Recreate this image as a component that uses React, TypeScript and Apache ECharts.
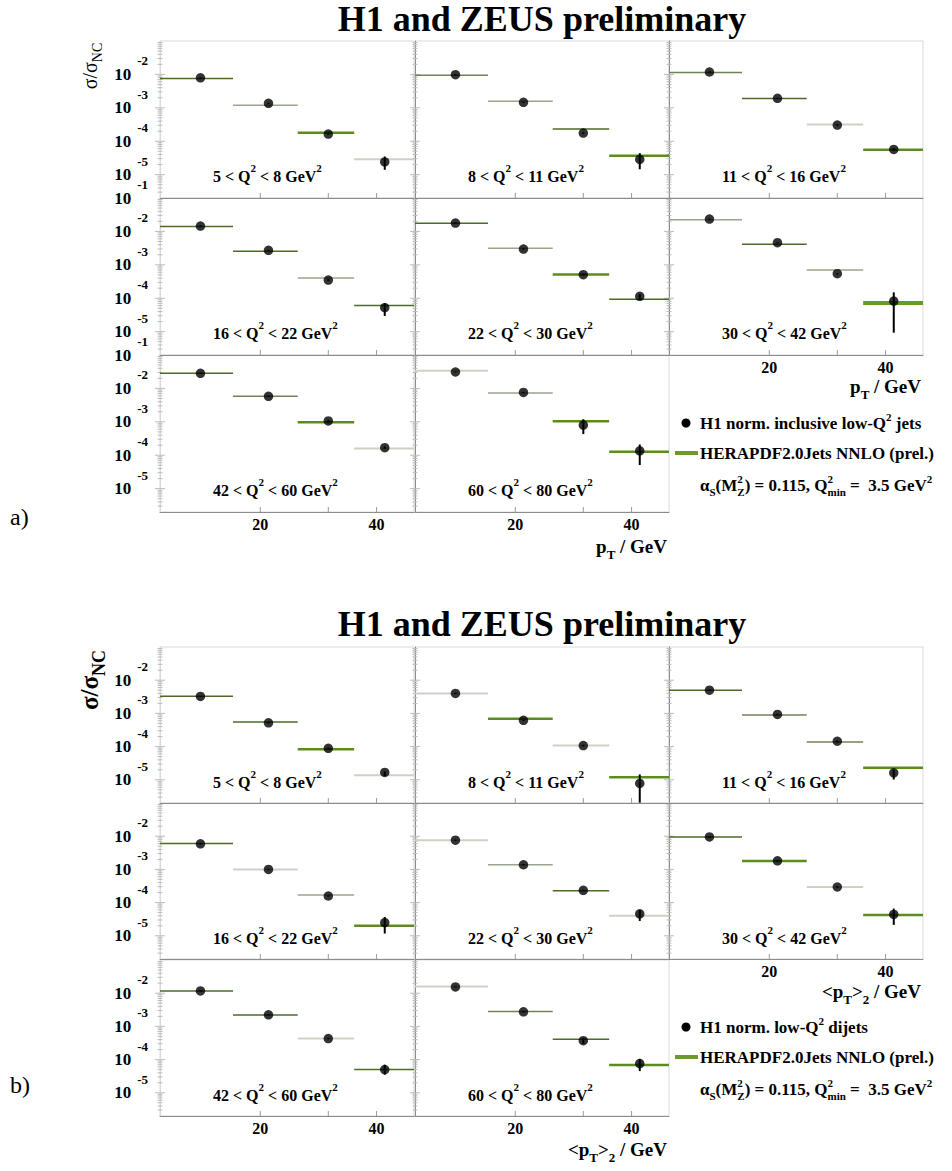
import React, { useEffect, useRef } from "react";
import * as echarts from "echarts";

const W = 952;
const H = 1171;
const SERIF = '"Liberation Serif", "DejaVu Serif", serif';

// pT binning (GeV): bin edges and the position of each measured point
const ptEdges = [11, 17, 25, 35, 50];
const ptPoints = [14, 21, 30, 42];
const xTickValues = [20, 30, 40];
const xTickLabels = [20, 40];

// Q^2 ranges of the eight panels (GeV^2)
const q2Lo = [5, 8, 11, 16, 22, 30, 42, 60];
const q2Hi = [8, 11, 16, 22, 30, 42, 60, 80];

// a) H1 normalised inclusive low-Q^2 jets
const incPts = [
  [7.9e-3, 1.36e-3, 1.64e-4, 2.4e-5],
  [9.8e-3, 1.46e-3, 1.76e-4, 2.86e-5],
  [1.18e-2, 1.92e-3, 3.05e-4, 5.7e-5],
  [1.45e-2, 2.72e-3, 3.5e-4, 5.2e-5],
  [1.78e-2, 2.97e-3, 5.06e-4, 1.14e-4],
  [2.35e-2, 4.59e-3, 5.42e-4, 8.2e-5],
  [2.83e-2, 5.8e-3, 1.06e-3, 1.68e-4],
  [3.1e-2, 7.6e-3, 8.0e-4, 1.36e-4],
];
const incLo = [
  [7.6e-3, 1.3e-3, 1.55e-4, 1.4e-5],
  [9.4e-3, 1.4e-3, 1.66e-4, 1.45e-5],
  [1.13e-2, 1.84e-3, 2.9e-4, 5.2e-5],
  [1.39e-2, 2.6e-3, 3.3e-4, 2.95e-5],
  [1.71e-2, 2.85e-3, 4.8e-4, 8.9e-5],
  [2.26e-2, 4.4e-3, 5.1e-4, 9.3e-6],
  [2.72e-2, 5.55e-3, 1.0e-3, 1.55e-4],
  [2.98e-2, 7.3e-3, 4.3e-4, 5.1e-5],
];
const incHi = [
  [8.2e-3, 1.42e-3, 1.73e-4, 3.5e-5],
  [1.02e-2, 1.52e-3, 1.86e-4, 4.4e-5],
  [1.23e-2, 2.0e-3, 3.2e-4, 6.2e-5],
  [1.51e-2, 2.84e-3, 3.7e-4, 7.1e-5],
  [1.85e-2, 3.1e-3, 5.3e-4, 1.32e-4],
  [2.44e-2, 4.78e-3, 5.7e-4, 1.5e-4],
  [2.94e-2, 6.05e-3, 1.12e-3, 1.82e-4],
  [3.22e-2, 7.9e-3, 1.19e-3, 2.1e-4],
];
// HERAPDF2.0Jets NNLO prediction per bin
const incTheory = [
  [7.6e-3, 1.19e-3, 1.8e-4, 2.9e-5],
  [9.5e-3, 1.56e-3, 2.32e-4, 3.68e-5],
  [1.15e-2, 1.9e-3, 3.16e-4, 5.6e-5],
  [1.41e-2, 2.54e-3, 4.03e-4, 6.1e-5],
  [1.74e-2, 3.11e-3, 5.16e-4, 9.3e-5],
  [2.24e-2, 4.11e-3, 6.98e-4, 7.2e-5],
  [2.83e-2, 5.8e-3, 9.7e-4, 1.6e-4],
  [3.39e-2, 7.3e-3, 1.04e-3, 1.27e-4],
];

// b) H1 normalised low-Q^2 dijets
const dijPts = [
  [3.24e-3, 5.2e-4, 8.9e-5, 1.66e-5],
  [3.98e-3, 6.2e-4, 1.07e-4, 7.8e-6],
  [5.0e-3, 9.3e-4, 1.45e-4, 1.62e-5],
  [5.9e-3, 1.0e-3, 1.58e-4, 2.5e-5],
  [7.6e-3, 1.38e-3, 2.34e-4, 4.6e-5],
  [9.5e-3, 1.82e-3, 2.95e-4, 4.4e-5],
  [1.17e-2, 2.24e-3, 4.3e-4, 5.0e-5],
  [1.55e-2, 2.75e-3, 3.7e-4, 7.6e-5],
];
const dijLo = [
  [3.1e-3, 4.95e-4, 8.4e-5, 1.3e-5],
  [3.8e-3, 5.9e-4, 1.01e-4, 2.05e-6],
  [4.8e-3, 8.9e-4, 1.37e-4, 1.02e-5],
  [5.65e-3, 9.6e-4, 1.5e-4, 1.17e-5],
  [7.3e-3, 1.32e-3, 2.22e-4, 2.8e-5],
  [9.1e-3, 1.74e-3, 2.8e-4, 2.14e-5],
  [1.12e-2, 2.14e-3, 4.1e-4, 3.5e-5],
  [1.49e-2, 2.63e-3, 3.0e-4, 4.5e-5],
];
const dijHi = [
  [3.38e-3, 5.45e-4, 9.4e-5, 1.8e-5],
  [4.16e-3, 6.5e-4, 1.13e-4, 1.45e-5],
  [5.2e-3, 9.7e-4, 1.53e-4, 2.04e-5],
  [6.15e-3, 1.04e-3, 1.66e-4, 3.7e-5],
  [7.9e-3, 1.44e-3, 2.46e-4, 6.0e-5],
  [9.9e-3, 1.9e-3, 3.1e-4, 6.6e-5],
  [1.22e-2, 2.34e-3, 4.5e-4, 7.0e-5],
  [1.61e-2, 2.87e-3, 4.5e-4, 1.05e-4],
];
const dijTheory = [
  [3.3e-3, 5.5e-4, 8.3e-5, 1.38e-5],
  [3.98e-3, 6.9e-4, 1.07e-4, 1.2e-5],
  [5.0e-3, 8.9e-4, 1.38e-4, 2.3e-5],
  [6.0e-3, 1.0e-3, 1.7e-4, 2.0e-5],
  [7.6e-3, 1.38e-3, 2.29e-4, 4.0e-5],
  [9.5e-3, 1.78e-3, 2.95e-4, 4.2e-5],
  [1.17e-2, 2.2e-3, 4.3e-4, 5.0e-5],
  [1.6e-2, 2.8e-3, 4.1e-4, 6.9e-5],
];

// line shade of each prediction segment (one letter per bin)
const incShade = ["DMGL", "OMDG", "ODLG", "DDMD", "DMGD", "MDMT", "DOGL", "LMGG"];
const dijShade = ["DDGL", "LGLG", "DOOG", "DLMG", "LMDL", "DGLG", "DDLD", "LODG"];
const SHADES: Record<string, [string, number]> = {
  T: ["#63a01d", 4],
  G: ["#5b8c1d", 2.5],
  D: ["#4d6a28", 1.5],
  O: ["#6f8455", 1.5],
  M: ["#9aa68c", 1.5],
  L: ["#cdd2c5", 2],
};

const X_MIN = 11;
const X_MAX = 50;
const Y_MIN = 2e-6;
const Y_MAX = 0.1;

const colLeft = [160, 415, 669];
const colW = 254;

interface Block {
  tops: number[];
  h: number;
  pts: number[][];
  lo: number[][];
  hi: number[][];
  th: number[][];
  shade: string[];
  topLabel: boolean;
}

const blocks: Block[] = [
  { tops: [41, 198, 355], h: 157, pts: incPts, lo: incLo, hi: incHi, th: incTheory, shade: incShade, topLabel: true },
  { tops: [647, 803, 960], h: 156, pts: dijPts, lo: dijLo, hi: dijHi, th: dijTheory, shade: dijShade, topLabel: false },
];

function axisTickData(labelled: boolean) {
  const d: number[][] = [];
  for (let e = -6; e <= -2; e++) {
    for (let m = 1; m <= 9; m++) {
      const v = m * Math.pow(10, e);
      if (v > Y_MIN * 1.01 && v < Y_MAX * 0.99) d.push([X_MIN, v, m === 1 ? 1 : 0]);
    }
  }
  xTickValues.forEach((x) => d.push([x, Y_MIN, 2]));
  if (labelled) xTickLabels.forEach((x) => d.push([x, Y_MIN, 3]));
  return d;
}

const textStyle = (size: number, bold = true) => ({
  fontFamily: SERIF,
  fontWeight: bold ? "bold" : "normal",
  fontSize: size,
  fill: "#000",
});

function buildOption() {
  const grid: any[] = [];
  const xAxis: any[] = [];
  const yAxis: any[] = [];
  const series: any[] = [];
  const graphic: any[] = [];

  blocks.forEach((blk, bi) => {
    for (let j = 0; j < 8; j++) {
      const k = bi * 8 + j;
      const row = Math.floor(j / 3);
      const col = j % 3;
      const top = blk.tops[row];
      const bottomOfColumn = row === 2 || (row === 1 && col === 2);

      grid.push({
        left: colLeft[col],
        top,
        width: colW,
        height: blk.h,
        show: true,
        borderColor: "#d9d9d9",
        borderWidth: 1,
        backgroundColor: "transparent",
      });
      xAxis.push({
        type: "log",
        gridIndex: k,
        min: X_MIN,
        max: X_MAX,
        axisLine: { show: true, lineStyle: { color: "#8c8c8c", width: 1 } },
        axisTick: { show: false },
        axisLabel: { show: false },
        splitLine: { show: false },
      });
      yAxis.push({
        type: "log",
        gridIndex: k,
        min: Y_MIN,
        max: Y_MAX,
        axisLine: { show: true, lineStyle: { color: col === 0 ? "#d9d9d9" : "#8c8c8c", width: 1 } },
        axisTick: { show: false },
        splitLine: { show: false },
        axisLabel: {
          show: col === 0,
          margin: 12,
          formatter: (v: number) => {
            const l = Math.log10(v);
            const e = Math.round(l);
            if (Math.abs(l - e) > 0.02) return "";
            if (e === -1 && (!blk.topLabel || row === 0)) return "";
            return `{b|10}{e|${e}}`;
          },
          rich: {
            b: { fontFamily: SERIF, fontWeight: "bold", fontSize: 17, color: "#000", lineHeight: 40 },
            e: {
              fontFamily: SERIF,
              fontWeight: "bold",
              fontSize: 13,
              color: "#000",
              lineHeight: 14,
              verticalAlign: "top",
              padding: [0, 0, 0, 6],
            },
          },
        },
      });

      // frame ticks and x labels
      series.push({
        type: "custom",
        xAxisIndex: k,
        yAxisIndex: k,
        encode: { x: 0, y: 1 },
        data: axisTickData(bottomOfColumn),
        silent: true,
        z: 1,
        renderItem: (_p: any, api: any) => {
          const kind = api.value(2);
          if (kind === 0 || kind === 1) {
            const p = api.coord([X_MIN, api.value(1)]);
            const len = kind === 1 ? 5 : 2.5;
            return {
              type: "line",
              shape: { x1: p[0] - len, y1: p[1], x2: p[0] + len, y2: p[1] },
              style: { stroke: "#bdbdbd", lineWidth: 1 },
            };
          }
          const p = api.coord([api.value(0), Y_MIN]);
          if (kind === 2) {
            return {
              type: "line",
              shape: { x1: p[0], y1: p[1], x2: p[0], y2: p[1] - 5 },
              style: { stroke: "#9a9a9a", lineWidth: 1 },
            };
          }
          return {
            type: "text",
            x: p[0],
            y: p[1] + 4,
            style: { ...textStyle(16), text: String(api.value(0)), align: "center", verticalAlign: "top" },
          };
        },
      });

      // prediction: one horizontal segment per bin
      const shade = blk.shade[j];
      series.push({
        type: "custom",
        xAxisIndex: k,
        yAxisIndex: k,
        encode: { x: [0, 1], y: 2 },
        data: blk.th[j].map((v, i) => [ptEdges[i], ptEdges[i + 1], v]),
        z: 2,
        renderItem: (p: any, api: any) => {
          const s = SHADES[shade[p.dataIndex]];
          const a = api.coord([api.value(0), api.value(2)]);
          const b = api.coord([api.value(1), api.value(2)]);
          return {
            type: "line",
            shape: { x1: a[0], y1: a[1], x2: b[0], y2: b[1] },
            style: { stroke: s[0], lineWidth: s[1] },
          };
        },
      });

      // measurement uncertainties
      series.push({
        type: "custom",
        xAxisIndex: k,
        yAxisIndex: k,
        encode: { x: 0, y: [1, 2] },
        data: blk.pts[j].map((_v, i) => [ptPoints[i], blk.lo[j][i], blk.hi[j][i]]),
        z: 3,
        renderItem: (_p: any, api: any) => {
          const a = api.coord([api.value(0), api.value(1)]);
          const b = api.coord([api.value(0), api.value(2)]);
          return {
            type: "line",
            shape: { x1: a[0], y1: a[1], x2: b[0], y2: b[1] },
            style: { stroke: "#000", lineWidth: 2 },
          };
        },
      });

      // measured points
      series.push({
        type: "scatter",
        xAxisIndex: k,
        yAxisIndex: k,
        data: blk.pts[j].map((v, i) => [ptPoints[i], v]),
        symbol: "circle",
        symbolSize: 9.5,
        itemStyle: { color: "#000" },
        z: 4,
      });

      graphic.push({
        type: "text",
        x: colLeft[col] + 53,
        y: top + 132,
        style: {
          text: `{t|${q2Lo[j]} < Q}{u|2}{t| < ${q2Hi[j]} GeV}{u|2}`,
          align: "left",
          verticalAlign: "middle",
          rich: {
            t: { fontFamily: SERIF, fontWeight: "bold", fontSize: 16, lineHeight: 22, verticalAlign: "bottom", fill: "#000" },
            u: { fontFamily: SERIF, fontWeight: "bold", fontSize: 11, lineHeight: 11, verticalAlign: "top", fill: "#000" },
          },
        },
      });
    }
  });

  const subRich = (big: number, small: number) => ({
    b: { fontFamily: SERIF, fontWeight: "bold", fontSize: big, lineHeight: big, verticalAlign: "top", fill: "#000" },
    s: { fontFamily: SERIF, fontWeight: "bold", fontSize: small, lineHeight: big + 5, verticalAlign: "bottom", fill: "#000" },
  });

  // titles, axis titles, legends
  [19, 624].forEach((y) =>
    graphic.push({
      type: "text",
      x: 542,
      y,
      style: { ...textStyle(36), text: "H1 and ZEUS preliminary", align: "center", verticalAlign: "middle" },
    })
  );
  graphic.push({
    type: "text",
    x: 10,
    y: 517,
    style: { ...textStyle(24, false), text: "a)", align: "left", verticalAlign: "middle" },
  });
  graphic.push({
    type: "text",
    x: 10,
    y: 1085,
    style: { ...textStyle(24, false), text: "b)", align: "left", verticalAlign: "middle" },
  });
  graphic.push({
    type: "text",
    x: 92,
    y: 66,
    rotation: Math.PI / 2,
    style: {
      text: "{m|σ/σ}{s|NC}",
      align: "center",
      verticalAlign: "middle",
      rich: {
        m: { fontFamily: SERIF, fontSize: 20, lineHeight: 20, verticalAlign: "top", fill: "#000" },
        s: { fontFamily: SERIF, fontSize: 14, lineHeight: 25, verticalAlign: "bottom", fill: "#000" },
      },
    },
  });
  graphic.push({
    type: "text",
    x: 92,
    y: 680,
    rotation: Math.PI / 2,
    style: {
      text: "{m|σ/σ}{s|NC}",
      align: "center",
      verticalAlign: "middle",
      rich: {
        m: { fontFamily: SERIF, fontWeight: "bold", fontSize: 25, lineHeight: 25, verticalAlign: "top", fill: "#000" },
        s: { fontFamily: SERIF, fontWeight: "bold", fontSize: 18, lineHeight: 31, verticalAlign: "bottom", fill: "#000" },
      },
    },
  });

  const ptTitle = "{b|p}{s|T}{b| / GeV}";
  const pt2Title = "{b|<p}{s|T}{b|>}{s|2}{b| / GeV}";
  [
    [921, 389, ptTitle],
    [667, 549, ptTitle],
    [921, 994, pt2Title],
    [667, 1152, pt2Title],
  ].forEach(([x, y, t]) =>
    graphic.push({
      type: "text",
      x,
      y,
      style: { text: t, align: "right", verticalAlign: "middle", rich: subRich(19, 13) },
    })
  );

  const legendRich = {
    t: { fontFamily: SERIF, fontWeight: "bold", fontSize: 17, lineHeight: 24, verticalAlign: "middle", fill: "#000" },
    p: { fontFamily: SERIF, fontWeight: "bold", fontSize: 11, lineHeight: 11, verticalAlign: "top", fill: "#000", width: 0 },
    q: { fontFamily: SERIF, fontWeight: "bold", fontSize: 11, lineHeight: 11, verticalAlign: "top", fill: "#000" },
    d: { fontFamily: SERIF, fontWeight: "bold", fontSize: 11, lineHeight: 11, verticalAlign: "bottom", fill: "#000" },
  };
  const legends = [
    { y: 423, entry: "{t|H1 norm. inclusive low-Q}{q|2}{t| jets}" },
    { y: 1027, entry: "{t|H1 norm. low-Q}{q|2}{t| dijets}" },
  ];
  legends.forEach(({ y, entry }) => {
    graphic.push({ type: "circle", shape: { cx: 686, cy: y, r: 4.5 }, style: { fill: "#000" } });
    graphic.push({
      type: "text",
      x: 700,
      y,
      style: { text: entry, align: "left", verticalAlign: "middle", rich: legendRich },
    });
    graphic.push({ type: "rect", shape: { x: 675, y: y + 28, width: 23, height: 4 }, style: { fill: "#6c9a2e" } });
    graphic.push({
      type: "text",
      x: 700,
      y: y + 30,
      style: { text: "{t|HERAPDF2.0Jets NNLO (prel.)}", align: "left", verticalAlign: "middle", rich: legendRich },
    });
    graphic.push({
      type: "text",
      x: 700,
      y: y + 62,
      style: {
        text: "{t|α}{d|S}{t|(M}{p|2}{d|Z}{t|) = 0.115, Q}{p|2}{d|min}{t| =  3.5 GeV}{q|2}",
        align: "left",
        verticalAlign: "middle",
        rich: legendRich,
      },
    });
  });

  return { animation: false, grid, xAxis, yAxis, series, graphic };
}

export default function App() {
  const ref = useRef<HTMLDivElement>(null);
  useEffect(() => {
    document.body.style.margin = "0";
    const chart = echarts.init(ref.current!, null, { renderer: "svg", width: W, height: H });
    chart.setOption(buildOption() as any);
    return () => chart.dispose();
  }, []);
  return <div ref={ref} style={{ width: W, height: H, background: "#fff" }} />;
}
